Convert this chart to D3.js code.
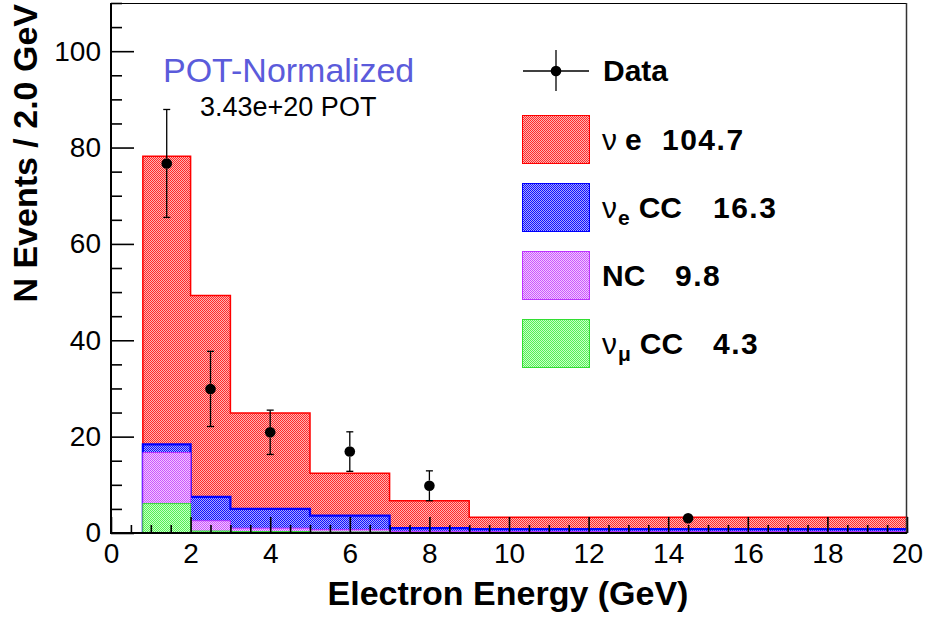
<!DOCTYPE html>
<html>
<head>
<meta charset="utf-8">
<script src="https://cdn.jsdelivr.net/npm/d3@7"></script>
<style>
  body { margin: 0; background: #fff; }
  svg { display: block; font-family: "Liberation Sans", Arial, sans-serif; }
</style>
</head>
<body>
<svg id="chart" width="928" height="617"></svg>
<script>
// bin edges (GeV) and stacked components, in events / 2 GeV
const binEdges = [0.8, 2, 3, 5, 7, 9, 20];
const numuCC = [6.1, 0.4, 0.3, 0.2, 0.1, 0.1];
const ncVals = [10.6, 2.15, 0.7, 0.5, 0.25, 0.2];
const nueCC = [1.7, 4.95, 4.0, 2.9, 0.65, 0.5];
const nuE = [59.8, 41.8, 19.9, 8.8, 5.7, 2.45];

// data points
const dataX = [1.4, 2.5, 4.0, 6.0, 8.0, 14.5];
const dataY = [76.7, 29.9, 20.9, 16.9, 9.8, 3.05];
const dataErr = [11.2, 7.8, 4.6, 4.1, 3.1, 0.75];

const xTicks = [0, 2, 4, 6, 8, 10, 12, 14, 16, 18, 20];
const yTicks = [0, 20, 40, 60, 80, 100];

const legendNames = ["\u03bd e", "\u03bd_e CC", "NC", "\u03bd_\u03bc CC"];
const legendTotals = ["104.7", "16.3", "9.8", "4.3"];

// stack order bottom -> top; fill = dotted mix of "dot" on "tint"
const layers = [
  { key: "numu", vals: numuCC, color: "#33dd33", dot: "#55f055", tint: "#c8ffc8", stroke: 1 },
  { key: "nc", vals: ncVals, color: "#bb33ff", dot: "#cc55ff", tint: "#f0c8ff", stroke: 1 },
  { key: "nuecc", vals: nueCC, color: "#0000ff", dot: "#1010ff", tint: "#a8a8ff", stroke: 2.2 },
  { key: "nue", vals: nuE, color: "#ff0000", dot: "#ff2a2a", tint: "#ffb4b4", stroke: 1.5 },
];

const svg = d3.select("#chart");
const x = d3.scaleLinear().domain([0, 20]).range([111, 907]);
const y = d3.scaleLinear().domain([0, 110]).range([533, 3]);

// checker fill patterns
const defs = svg.append("defs");
layers.forEach(l => {
  const p = defs.append("pattern")
    .attr("id", "pat-" + l.key)
    .attr("patternUnits", "userSpaceOnUse")
    .attr("width", 2).attr("height", 2);
  p.append("rect").attr("width", 2).attr("height", 2).attr("fill", l.tint);
  p.append("rect").attr("width", 1).attr("height", 1).attr("fill", l.dot);
  p.append("rect").attr("x", 1).attr("y", 1).attr("width", 1).attr("height", 1).attr("fill", l.dot);
});

// cumulative tops
let cum = binEdges.slice(1).map(() => 0);
layers.forEach(l => {
  cum = cum.map((c, i) => c + l.vals[i]);
  l.top = cum.slice();
});

function stepPoints(tops) {
  const pts = [[binEdges[0], 0]];
  tops.forEach((t, i) => {
    pts.push([binEdges[i], t]);
    pts.push([binEdges[i + 1], t]);
  });
  pts.push([binEdges[binEdges.length - 1], 0]);
  return pts;
}
const line = d3.line().x(d => x(d[0])).y(d => y(d[1]));

const hist = svg.append("g");
// draw largest (top of stack) first
layers.slice().reverse().forEach(l => {
  const pts = stepPoints(l.top);
  hist.append("path")
    .attr("d", line(pts) + "Z")
    .attr("fill", `url(#pat-${l.key})`)
    .attr("shape-rendering", "crispEdges");
  hist.append("path")
    .attr("d", line(pts))
    .attr("fill", "none")
    .attr("stroke", l.color)
    .attr("stroke-width", l.stroke);
});

// axes (ticks point inward)
const font = "'Liberation Sans', Arial, sans-serif";
const xMinor = d3.range(0, 20.01, 0.5).filter(v => v % 2 !== 0);
const yMinor = d3.range(0, 110.01, 5).filter(v => v % 20 !== 0);

svg.append("g").attr("transform", "translate(0,533)")
  .call(d3.axisBottom(x).tickValues(xMinor).tickSize(-8).tickFormat(""))
  .call(g => g.select(".domain").remove());
svg.append("g").attr("transform", "translate(0,533)")
  .call(d3.axisBottom(x).tickValues(xTicks).tickSize(-16).tickPadding(10).tickFormat(d3.format("d")))
  .call(g => g.select(".domain").remove())
  .call(g => g.selectAll("text").attr("font-size", 28).attr("font-family", font).attr("fill", "#000"));

svg.append("g").attr("transform", "translate(111,0)")
  .call(d3.axisLeft(y).tickValues(yMinor).tickSize(-11).tickFormat(""))
  .call(g => g.select(".domain").remove());
svg.append("g").attr("transform", "translate(111,0)")
  .call(d3.axisLeft(y).tickValues(yTicks).tickSize(-23).tickPadding(10).tickFormat(d3.format("d")))
  .call(g => g.select(".domain").remove())
  .call(g => g.selectAll("text").attr("font-size", 28).attr("font-family", font).attr("fill", "#000"));

svg.selectAll(".tick line").attr("stroke", "#000").attr("stroke-width", 1.6);

// frame
svg.append("line").attr("x1", 111).attr("x2", 907).attr("y1", 3.5).attr("y2", 3.5).attr("stroke", "#000");
svg.append("line").attr("x1", 906.5).attr("x2", 906.5).attr("y1", 3).attr("y2", 534).attr("stroke", "#333").attr("stroke-width", 1.5);
svg.append("line").attr("x1", 111).attr("x2", 111).attr("y1", 3).attr("y2", 534).attr("stroke", "#000").attr("stroke-width", 2);
svg.append("line").attr("x1", 110).attr("x2", 907).attr("y1", 533).attr("y2", 533).attr("stroke", "#000").attr("stroke-width", 2);

// data points
const R = 5.3;
const pts = svg.append("g");
dataX.forEach((dx, i) => {
  const cx = x(dx), cy = y(dataY[i]);
  const yHi = y(dataY[i] + dataErr[i]), yLo = y(dataY[i] - dataErr[i]);
  if (cy - yHi > R) {
    pts.append("line").attr("x1", cx).attr("x2", cx).attr("y1", yHi).attr("y2", cy - R).attr("stroke", "#000").attr("stroke-width", 1.3);
    pts.append("line").attr("x1", cx - 3.5).attr("x2", cx + 3.5).attr("y1", yHi).attr("y2", yHi).attr("stroke", "#000").attr("stroke-width", 1.3);
    pts.append("line").attr("x1", cx).attr("x2", cx).attr("y1", cy + R).attr("y2", yLo).attr("stroke", "#000").attr("stroke-width", 1.3);
    pts.append("line").attr("x1", cx - 3.5).attr("x2", cx + 3.5).attr("y1", yLo).attr("y2", yLo).attr("stroke", "#000").attr("stroke-width", 1.3);
  }
  pts.append("circle").attr("cx", cx).attr("cy", cy).attr("r", R).attr("fill", "#000");
});

// axis titles
svg.append("text")
  .attr("x", 508).attr("y", 605)
  .attr("text-anchor", "middle")
  .attr("font-size", 34).attr("font-weight", "bold")
  .text("Electron Energy (GeV)");
svg.append("text")
  .attr("transform", "translate(37,4) rotate(-90)")
  .attr("text-anchor", "end")
  .attr("font-size", 34).attr("font-weight", "bold")
  .text("N Events / 2.0 GeV");

// labels
svg.append("text")
  .attr("x", 163).attr("y", 82)
  .attr("font-size", 34).attr("fill", "#5b5bdb")
  .text("POT-Normalized");
svg.append("text")
  .attr("x", 200).attr("y", 116)
  .attr("font-size", 27).attr("fill", "#000")
  .text("3.43e+20 POT");

// legend
const leg = svg.append("g");
leg.append("line").attr("x1", 523).attr("x2", 589).attr("y1", 71).attr("y2", 71).attr("stroke", "#000").attr("stroke-width", 1.3);
leg.append("line").attr("x1", 556).attr("x2", 556).attr("y1", 50).attr("y2", 91).attr("stroke", "#000").attr("stroke-width", 1.3);
leg.append("circle").attr("cx", 556).attr("cy", 71).attr("r", R).attr("fill", "#000");
leg.append("text").attr("x", 603).attr("y", 81).attr("font-size", 30).attr("font-weight", "bold").text("Data");

const legLayers = layers.slice().reverse();
const rowTop = [115, 183, 251, 319];
const numX = [662, 713, 675, 713];
legLayers.forEach((l, i) => {
  const top = rowTop[i];
  leg.append("rect")
    .attr("x", 522.5).attr("y", top + 0.5).attr("width", 67).attr("height", 48)
    .attr("fill", `url(#pat-${l.key})`)
    .attr("stroke", l.color).attr("stroke-width", 1);
  const base = top + 35;
  const name = legendNames[i];
  const t = leg.append("text").attr("x", 602).attr("y", base).attr("font-size", 30).attr("font-weight", "bold");
  if (name.includes("_")) {
    const [a, rest] = name.split("_");
    const [sub, ...tail] = rest.split(" ");
    t.append("tspan").attr("font-weight", "normal").text(a);
    t.append("tspan").attr("font-size", 21).attr("dy", 7).attr("dx", 1).text(sub);
    t.append("tspan").attr("dy", -7).attr("dx", 9).text(tail.join(" "));
  } else if (name.startsWith("\u03bd")) {
    t.append("tspan").attr("font-weight", "normal").text("\u03bd");
    t.append("tspan").attr("dx", 8).text(name.slice(2));
  } else {
    t.text(name);
  }
  leg.append("text").attr("x", numX[i]).attr("y", base).attr("font-size", 30).attr("font-weight", "bold")
    .attr("letter-spacing", 1.5).text(legendTotals[i]);
});
</script>
</body>
</html>
